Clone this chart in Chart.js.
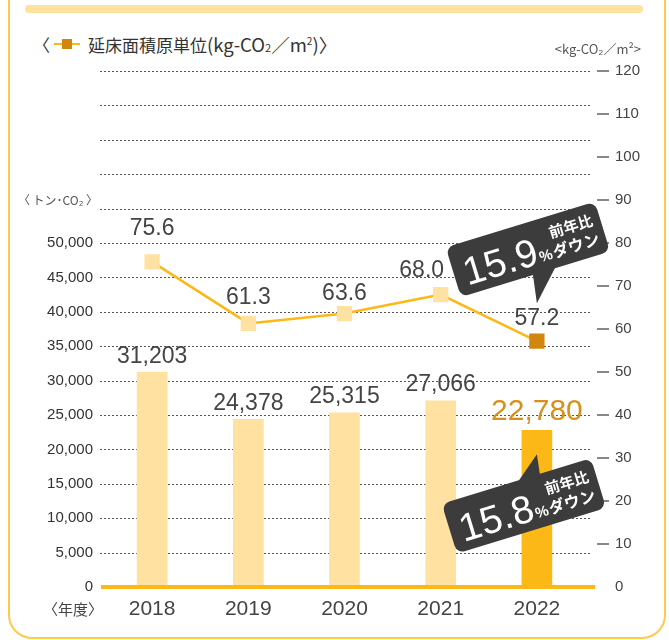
<!DOCTYPE html>
<html lang="ja">
<head>
<meta charset="utf-8">
<script src="https://cdn.jsdelivr.net/npm/chart.js@4"></script>
<style>
  html, body { margin: 0; padding: 0; background: #fff; }
  body { width: 669px; height: 640px; position: relative; overflow: hidden;
         font-family: "Liberation Sans", "Noto Sans CJK JP", sans-serif; }
  .frame { position: absolute; left: 8px; top: -30px; width: 658px; height: 669px;
           border: 2px solid #fdcb4a; border-radius: 24px; box-sizing: border-box; }
  .band { position: absolute; left: 25px; top: 5px; width: 618px; height: 8px;
          background: #ffe29c; border-radius: 4px; }
  .legend { position: absolute; left: 33px; top: 31px; font-size: 17px; color: #333;
            font-family: "Noto Sans CJK JP", sans-serif; display: flex; align-items: center; }
  .legend .unit { font-size: 18.5px; }
  .legend .mark { position: relative; width: 26px; height: 14px; margin: 0 8px 0 4px; }
  .legend .mark::before { content: ""; position: absolute; left: 0; right: 0; top: 6px; height: 2px; background: #fbb714; }
  .legend .mark::after { content: ""; position: absolute; left: 8px; top: 2px; width: 10px; height: 10px; background: #d0860f; }
  .legend .sub { font-size: 11px; vertical-align: baseline; }
  .legend sup { font-size: 10px; }
  #wrap { position: absolute; left: 0; top: 0; width: 669px; height: 640px; }
</style>
</head>
<body>
<div class="frame"></div>
<div class="band"></div>
<div class="legend">〈<span class="mark"></span>延床面積原単位<span class="unit">(kg-CO<span class="sub">2</span>／m<sup>2</sup>)〉</span></div>
<div id="wrap"><canvas id="chart"></canvas></div>
<script>
const years = ['2018', '2019', '2020', '2021', '2022'];
const emissions = [31203, 24378, 25315, 27066, 22780];      // トン-CO2
const intensity = [75.6, 61.3, 63.6, 68.0, 57.2];           // kg-CO2/m2
const leftTicks = [0, 5000, 10000, 15000, 20000, 25000, 30000, 35000, 40000, 45000, 50000];
const rightTicks = [0, 10, 20, 30, 40, 50, 60, 70, 80, 90, 100, 110, 120];
const callouts = [
  { big: '15.9', note: '前年比', tail: 'down' },
  { big: '15.8', note: '前年比', tail: 'up' },
];

const LIGHT = '#ffe1a2';
const STRONG = '#fcb816';
const DARK = '#d0860f';
const TEXT = '#444';
const NUM_FONT = '"Liberation Sans", "Noto Sans CJK JP", sans-serif';
const JP_FONT = '"Noto Sans CJK JP", sans-serif';

const lastIdx = years.length - 1;
const barColors = years.map((_, i) => i === lastIdx ? STRONG : LIGHT);
const pointColors = years.map((_, i) => i === lastIdx ? DARK : LIGHT);
// label nudges so the values stay clear of the callout
const lineLift = [33, 26, 20, 24, 22];
const lineShift = [0, 0, 0, -19, 0];

// dotted grid, baseline, right-side tick dashes
const gridPlugin = {
  id: 'grid',
  beforeDatasetsDraw(chart) {
    const { ctx, scales: { y } } = chart;
    ctx.save();
    ctx.strokeStyle = '#555';
    ctx.lineWidth = 1;
    ctx.setLineDash([2, 2]);
    for (let v = 5000; v <= 75000; v += 5000) {
      const py = Math.round(y.getPixelForValue(v)) + 0.5;
      ctx.beginPath(); ctx.moveTo(100, py); ctx.lineTo(592, py); ctx.stroke();
    }
    ctx.restore();
  },
  afterDatasetsDraw(chart) {
    const { ctx, scales: { y, y1 } } = chart;
    ctx.save();
    ctx.fillStyle = STRONG;
    ctx.fillRect(101, y.getPixelForValue(0) - 2, 494, 4);
    ctx.strokeStyle = '#888';
    ctx.lineWidth = 2;
    rightTicks.forEach(v => {
      if (v === 0) return;
      const py = Math.round(y1.getPixelForValue(v));
      ctx.beginPath(); ctx.moveTo(597, py); ctx.lineTo(609, py); ctx.stroke();
    });
    ctx.restore();
  }
};

// value labels over bars and points, axis captions
const labelPlugin = {
  id: 'labels',
  afterDatasetsDraw(chart) {
    const { ctx } = chart;
    ctx.save();
    ctx.textAlign = 'center';
    ctx.textBaseline = 'middle';
    chart.getDatasetMeta(1).data.forEach((bar, i) => {
      const last = i === lastIdx;
      ctx.font = (last ? '30px ' : '23px ') + NUM_FONT;
      ctx.fillStyle = last ? '#d9901a' : TEXT;
      ctx.fillText(emissions[i].toLocaleString('en-US'), bar.x, bar.y - (last ? 19 : 16));
    });
    chart.getDatasetMeta(0).data.forEach((pt, i) => {
      ctx.font = '23px ' + NUM_FONT;
      ctx.fillStyle = TEXT;
      ctx.fillText(intensity[i].toFixed(1), pt.x + lineShift[i], pt.y - lineLift[i]);
    });
    ctx.fillStyle = TEXT;
    ctx.font = '15px ' + JP_FONT;
    ctx.fillText('〈年度〉', 73, 609);
    ctx.font = '12px ' + JP_FONT;
    ctx.fillStyle = '#555';
    ctx.fillText('〈 トン･CO₂ 〉', 58, 200);
    ctx.textAlign = 'right';
    ctx.font = '13px ' + JP_FONT;
    ctx.fillText('<kg-CO₂／m²>', 641, 49);
    ctx.restore();
  }
};

function drawCallout(ctx, cx, cy, tip, c) {
  const w = 156, h = 52, ang = -17 * Math.PI / 180;
  ctx.save();
  ctx.fillStyle = '#3c3c3c';
  ctx.translate(cx, cy);
  ctx.rotate(ang);
  ctx.beginPath();
  ctx.roundRect(-w / 2, -h / 2, w, h, 8);
  ctx.fill();
  ctx.restore();
  // tail in page coordinates
  ctx.save();
  ctx.fillStyle = '#3c3c3c';
  const dir = c.tail === 'down' ? 1 : -1;
  const ex = Math.cos(ang), ey = Math.sin(ang);
  const nx = -ey * dir, ny = ex * dir;
  const bx = cx + ex * 10 + nx * (h / 2 - 4), by = cy + ey * 10 + ny * (h / 2 - 4);
  ctx.beginPath();
  ctx.moveTo(bx - ex * 12, by - ey * 12);
  ctx.lineTo(bx + ex * 14, by + ey * 14);
  ctx.lineTo(tip.x, tip.y);
  ctx.closePath();
  ctx.fill();
  ctx.restore();
  // text
  ctx.save();
  ctx.translate(cx, cy);
  ctx.rotate(ang);
  ctx.fillStyle = '#fff';
  ctx.textBaseline = 'alphabetic';
  ctx.textAlign = 'left';
  ctx.font = '39px ' + NUM_FONT;
  let x = -68;
  ctx.fillText(c.big, x, 17);
  x += ctx.measureText(c.big).width + 1;
  ctx.font = 'bold 15px ' + NUM_FONT;
  ctx.fillText('%', x, 16);
  x += ctx.measureText('%').width + 1;
  ctx.font = 'bold 16px ' + JP_FONT;
  ctx.fillText('ダウン', x, 16);
  const end = x + ctx.measureText('ダウン').width;
  ctx.font = 'bold 15px ' + JP_FONT;
  ctx.textAlign = 'right';
  ctx.fillText(c.note, end - 1, -4);
  ctx.restore();
}

const calloutPlugin = {
  id: 'callouts',
  afterDraw(chart) {
    const { ctx, scales: { x, y, y1 } } = chart;
    const lx = x.getPixelForValue(lastIdx);
    drawCallout(ctx, lx - 9, y1.getPixelForValue(78.5), { x: lx, y: y1.getPixelForValue(66) }, callouts[0]);
    drawCallout(ctx, lx - 13, y.getPixelForValue(11800), { x: lx, y: y.getPixelForValue(19300) }, callouts[1]);
  }
};

new Chart(document.getElementById('chart'), {
  data: {
    labels: years,
    datasets: [
      {
        type: 'line',
        label: '延床面積原単位',
        data: intensity,
        yAxisID: 'y1',
        order: 0,
        borderColor: STRONG,
        borderWidth: 2.5,
        pointStyle: 'rect',
        pointRadius: 10.8,
        pointBorderWidth: 0,
        pointBackgroundColor: pointColors,
        tension: 0,
      },
      {
        type: 'bar',
        label: 'CO2排出量',
        data: emissions,
        yAxisID: 'y',
        order: 1,
        backgroundColor: barColors,
        barThickness: 30,
      }
    ]
  },
  options: {
    responsive: true,
    maintainAspectRatio: false,
    animation: false,
    layout: { padding: { top: 71, left: 0, right: 0, bottom: 0 } },
    plugins: { legend: { display: false }, tooltip: { enabled: false } },
    scales: {
      x: {
        grid: { display: false, drawTicks: false },
        border: { display: false },
        ticks: { color: TEXT, font: { family: NUM_FONT, size: 21 }, padding: 10 },
        afterFit(s) { s.height = 53; },
      },
      y: {
        position: 'left',
        min: 0, max: 75000,
        afterBuildTicks(s) { s.ticks = leftTicks.map(v => ({ value: v })); },
        grid: { display: false, drawTicks: false },
        border: { display: false },
        ticks: {
          color: '#333',
          font: { family: NUM_FONT, size: 15 },
          padding: 11,
          callback: v => v.toLocaleString('en-US'),
        },
        afterFit(s) { s.width = 104; },
      },
      y1: {
        position: 'right',
        min: 0, max: 120,
        afterBuildTicks(s) { s.ticks = rightTicks.map(v => ({ value: v })); },
        grid: { display: false, drawTicks: false },
        border: { display: false },
        ticks: { color: TEXT, font: { family: NUM_FONT, size: 15 }, padding: 30 },
        afterFit(s) { s.width = 84; },
      },
    },
  },
  plugins: [gridPlugin, labelPlugin, calloutPlugin],
});
</script>
</body>
</html>
